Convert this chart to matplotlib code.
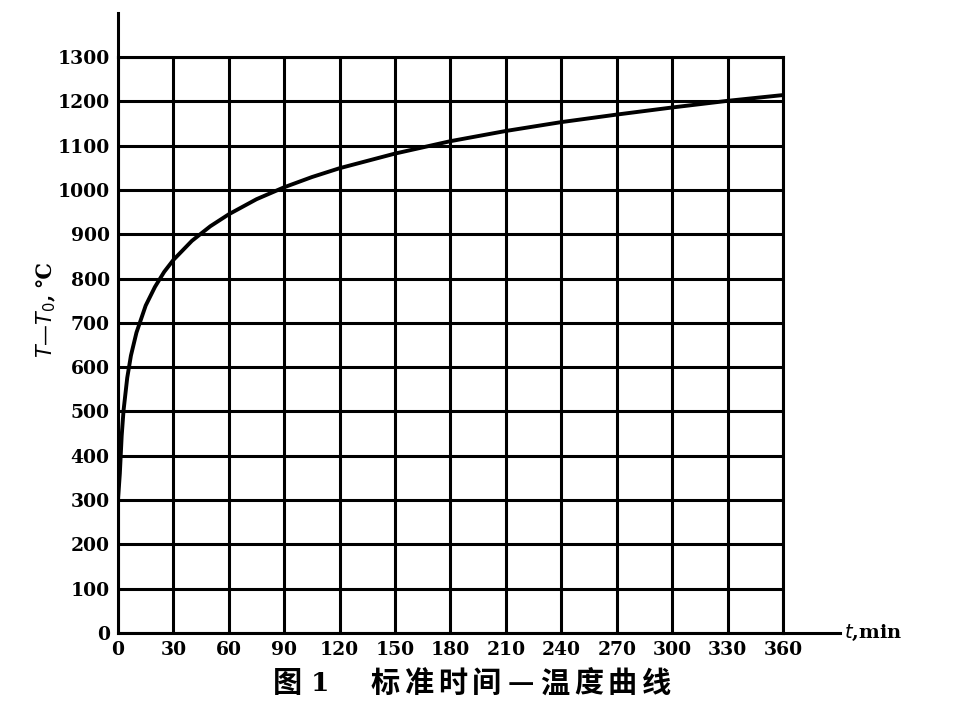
import matplotlib
matplotlib.use("Agg")
import matplotlib.pyplot as plt

# standard fire curve (t in min, T-T0 in deg C)
t_min = [0, 0.5, 1, 2, 3, 5, 7, 10, 15, 20, 25, 30, 40, 50, 60, 75, 90, 105,
         120, 150, 180, 210, 240, 270, 300, 330, 360]
temp_rise = [300, 330, 360, 445, 502, 576, 626, 678, 739, 781, 815, 842, 885,
             918, 945, 979, 1006, 1029, 1049, 1082, 1110, 1133, 1153, 1170,
             1186, 1201, 1214]

x_ticks = list(range(0, 361, 30))
y_ticks = list(range(0, 1301, 100))

caption_num = ["图", "1"]
caption_title = "标准时间—温度曲线"

serif = ["DejaVu Serif", "Noto Sans CJK SC"]
cjk = ["Noto Sans CJK SC", "DejaVu Sans"]

fig = plt.figure(figsize=(9.64, 7.23), dpi=100)
ax = fig.add_axes([0.1224, 0.1245, 0.6898, 0.7967])

ax.set_xlim(0, 360)
ax.set_ylim(0, 1300)
ax.set_xticks(x_ticks)
ax.set_yticks(y_ticks)
ax.set_xticklabels([str(v) for v in x_ticks], family=serif, fontsize=13.5,
                   fontweight="bold")
ax.set_yticklabels([str(v) for v in y_ticks], family=serif, fontsize=13.5,
                   fontweight="bold")
ax.tick_params(length=0, pad=6)
ax.grid(True, color="black", lw=2.2)
for s in ax.spines.values():
    s.set_linewidth(2.2)

ax.plot(t_min, temp_rise, color="black", lw=2.8, solid_capstyle="round")

# axis extensions beyond the grid
ax.plot([0, 0], [1300, 1400], color="black", lw=2.2, clip_on=False)
ax.plot([360, 391], [0, 0], color="black", lw=2.2, clip_on=False)
ax.text(393, 0, r"$\mathbf{\it{t}}$,min", family=serif, fontsize=14,
        fontweight="bold", va="center", ha="left")

fig.text(0.048, 0.572, r"$T$—$T_0$, ℃", family=serif, fontsize=15,
         fontweight="bold", rotation=90, ha="center", va="center")

# caption, characters spaced out like the printed figure
fig.text(0.298, 0.055, caption_num[0], family=cjk, fontsize=21,
         fontweight="bold", ha="center", va="center")
fig.text(0.332, 0.055, caption_num[1], family=serif, fontsize=19,
         fontweight="bold", ha="center", va="center")
step = 0.0352
x0 = 0.3994
for i, ch in enumerate(caption_title):
    fig.text(x0 + i * step, 0.055, ch, family=cjk, fontsize=21,
             fontweight="bold", ha="center", va="center")

fig.savefig("out.png", dpi=100)
